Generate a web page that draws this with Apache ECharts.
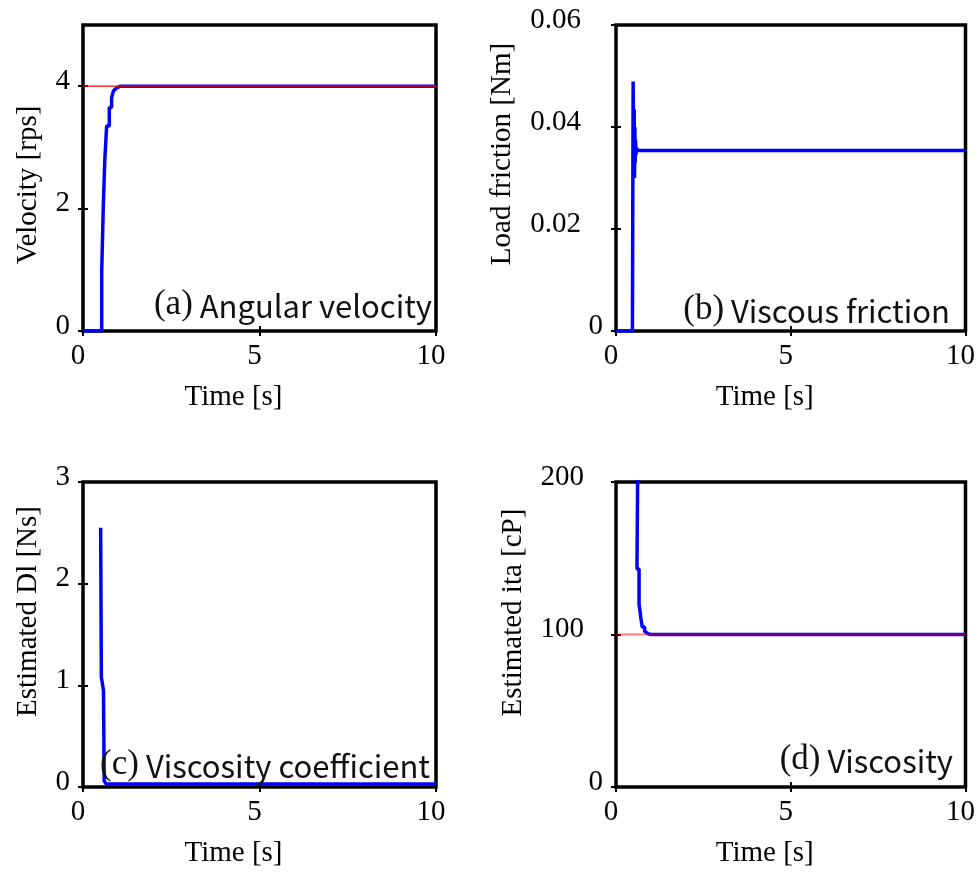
<!DOCTYPE html>
<html>
<head>
<meta charset="utf-8">
<script src="https://cdn.jsdelivr.net/npm/echarts@6/dist/echarts.min.js"></script>
<style>
  html, body { margin: 0; padding: 0; background: #fff; }
  #chart { width: 978px; height: 873px; }
</style>
</head>
<body>
<div id="chart"></div>
<script>
// Shared time axis ticks [s]
const timeTicks = [0, 5, 10];

// (a) Angular velocity [rps]
const velocityT = [0, 0.53, 0.53, 0.575, 0.575, 0.62, 0.62, 0.67, 0.67, 0.745, 0.745, 0.81, 0.81, 0.86, 0.86, 0.95, 1.05, 10];
const velocityV = [0, 0, 0.97, 0.97, 2.04, 2.04, 2.83, 2.83, 3.35, 3.35, 3.65, 3.65, 3.81, 3.81, 3.92, 3.97, 4.0, 4.0];
const velocityRefT = [0, 10];
const velocityRefV = [4, 4];
const velocityTicks = [0, 2, 4];

// (b) Load friction [Nm]
const frictionT = [0, 0.47, 0.49, 0.51, 0.52, 0.53, 0.54, 0.55, 0.56, 0.57, 0.59, 0.62, 10];
const frictionV = [0, 0, 0.0489, 0.031, 0.0435, 0.030, 0.040, 0.033, 0.0375, 0.0345, 0.0358, 0.0354, 0.0354];
const frictionTicks = [0, 0.02, 0.04, 0.06];

// (c) Estimated Dl [Ns]
const dlT = [0.5, 0.52, 0.58, 0.6, 0.66, 10];
const dlV = [2.55, 1.08, 0.95, 0.06, 0.03, 0.03];
const dlTicks = [0, 1, 2, 3];

// (d) Estimated ita [cP]
const itaT = [0.62, 0.6, 0.66, 0.66, 0.71, 0.71, 0.75, 0.75, 0.82, 0.82, 0.94, 1.0, 10];
const itaV = [205, 143, 143, 120, 120, 111, 111, 105, 105, 102, 100.3, 100, 100];
const itaRefT = [0, 10];
const itaRefV = [100, 100];
const itaTicks = [0, 100, 200];

const SERIF = '"Liberation Serif", "Times New Roman", serif';
const SANS = '"Noto Sans CJK JP", "Noto Sans", sans-serif';
const zip = (xs, ys) => xs.map((x, i) => [x, ys[i]]);

// Panel layout: plot rectangles, label offsets
const panels = [
  { left: 83, top: 25, width: 353, height: 306, yMin: 0, yMax: 5, ticks: velocityTicks,
    yName: 'Velocity [rps]', yNameGap: 40, yNamePad: [0, 14, 0, 0], wideLabelPad: 0, fixed: 0,
    tag: '(a)', text: ' Angular velocity', tagRight: 546, tagTop: 284 },
  { left: 616, top: 25, width: 354, height: 306, yMin: 0, yMax: 0.06, ticks: frictionTicks,
    yName: 'Load friction [Nm]', yNameGap: 99, yNamePad: [0, 0, 0, 48], wideLabelPad: 22, fixed: 2,
    tag: '(b)', text: ' Viscous friction', tagRight: 28, tagTop: 289 },
  { left: 83, top: 482, width: 353, height: 305, yMin: 0, yMax: 3, ticks: dlTicks,
    yName: 'Estimated Dl [Ns]', yNameGap: 40, yNamePad: [0, 0, 0, 46], wideLabelPad: 0, fixed: 0,
    tag: '(c)', text: ' Viscosity coefficient', tagRight: 548, tagTop: 744 },
  { left: 616, top: 482, width: 354, height: 305, yMin: 0, yMax: 200, ticks: itaTicks,
    yName: 'Estimated ita [cP]', yNameGap: 88, yNamePad: [0, 0, 0, 44], wideLabelPad: 19, fixed: 0,
    tag: '(d)', text: ' Viscosity', tagRight: 25, tagTop: 739 }
];

const tickStyle = { inside: true, length: 5, lineStyle: { color: '#000', width: 2 } };
const serifText = { fontFamily: SERIF, fontSize: 29, color: '#000' };

const grid = [], xAxis = [], yAxis = [], title = [];
panels.forEach((p, i) => {
  grid.push({ left: p.left, top: p.top, width: p.width, height: p.height,
    show: true, borderColor: '#000', borderWidth: 3.5, backgroundColor: 'transparent' });

  xAxis.push({
    gridIndex: i, type: 'value', position: 'bottom', min: 0, max: 10, interval: 5,
    axisLine: { show: false }, splitLine: { show: false },
    axisTick: Object.assign({ customValues: timeTicks }, tickStyle),
    axisLabel: Object.assign({ customValues: timeTicks, margin: 11, padding: [0, 10, 0, 0] }, serifText),
    name: 'Time [s]', nameLocation: 'middle', nameGap: 52,
    nameTextStyle: Object.assign({ padding: [0, 52, 0, 0] }, serifText)
  });
  xAxis.push({
    gridIndex: i, type: 'value', position: 'top', min: 0, max: 10, interval: 5,
    axisLine: { show: false }, splitLine: { show: false },
    axisTick: Object.assign({ customValues: timeTicks }, tickStyle),
    axisLabel: { show: false }
  });

  const wide = p.wideLabelPad;
  yAxis.push({
    gridIndex: i, type: 'value', position: 'left', min: p.yMin, max: p.yMax,
    axisLine: { show: false }, splitLine: { show: false },
    axisTick: Object.assign({ customValues: p.ticks }, tickStyle),
    axisLabel: Object.assign({
      customValues: p.ticks, margin: 13, padding: [0, 0, 10, 0],
      formatter: v => {
        const s = p.fixed ? (v === 0 ? '0' : v.toFixed(p.fixed)) : String(v);
        return (wide && v !== 0) ? '{w|' + s + '}' : s;
      },
      rich: { w: Object.assign({ padding: [0, wide, 0, 0] }, serifText) }
    }, serifText),
    name: p.yName, nameLocation: 'middle', nameGap: p.yNameGap, nameRotate: 90,
    nameTextStyle: Object.assign({ padding: p.yNamePad }, serifText)
  });
  yAxis.push({
    gridIndex: i, type: 'value', position: 'right', min: p.yMin, max: p.yMax,
    axisLine: { show: false }, splitLine: { show: false },
    axisTick: Object.assign({ customValues: p.ticks }, tickStyle),
    axisLabel: { show: false }
  });

  title.push({
    text: '{p|' + p.tag + '}{s|' + p.text + '}',
    right: p.tagRight, top: p.tagTop, padding: 0,
    textStyle: { fontWeight: 'normal', rich: {
      p: { fontFamily: SERIF, fontSize: 35, fontWeight: 'normal', color: '#111', verticalAlign: 'bottom', lineHeight: 38 },
      s: { fontFamily: SANS, fontSize: 31, fontWeight: 'normal', color: '#111', verticalAlign: 'bottom', lineHeight: 38 }
    } }
  });
});

const blue = { color: '#0000ff', width: 3.5 };
const lineBase = { type: 'line', showSymbol: false, symbol: 'none', animation: false, silent: true };

const series = [
  Object.assign({ xAxisIndex: 0, yAxisIndex: 0, data: zip(velocityT, velocityV), lineStyle: blue, z: 2 }, lineBase),
  Object.assign({ xAxisIndex: 0, yAxisIndex: 0, data: zip(velocityRefT, velocityRefV),
    lineStyle: { color: '#ff0000', width: 1.2 }, z: 3 }, lineBase),
  Object.assign({ xAxisIndex: 2, yAxisIndex: 2, data: zip(frictionT, frictionV), lineStyle: blue, z: 2 }, lineBase),
  Object.assign({ xAxisIndex: 4, yAxisIndex: 4, data: zip(dlT, dlV), lineStyle: blue, z: 2 }, lineBase),
  Object.assign({ xAxisIndex: 6, yAxisIndex: 6, data: zip(itaT, itaV), lineStyle: blue, z: 2 }, lineBase),
  Object.assign({ xAxisIndex: 6, yAxisIndex: 6, data: zip(itaRefT, itaRefV),
    lineStyle: { color: '#ff0000', width: 2, opacity: 0.5 }, z: 3 }, lineBase)
];
series.forEach(s => { s.itemStyle = { color: s.lineStyle.color }; s.clip = true; });

const chart = echarts.init(document.getElementById('chart'), null, { renderer: 'canvas' });
chart.setOption({ animation: false, backgroundColor: '#fff', title, grid, xAxis, yAxis, series });
</script>
</body>
</html>
